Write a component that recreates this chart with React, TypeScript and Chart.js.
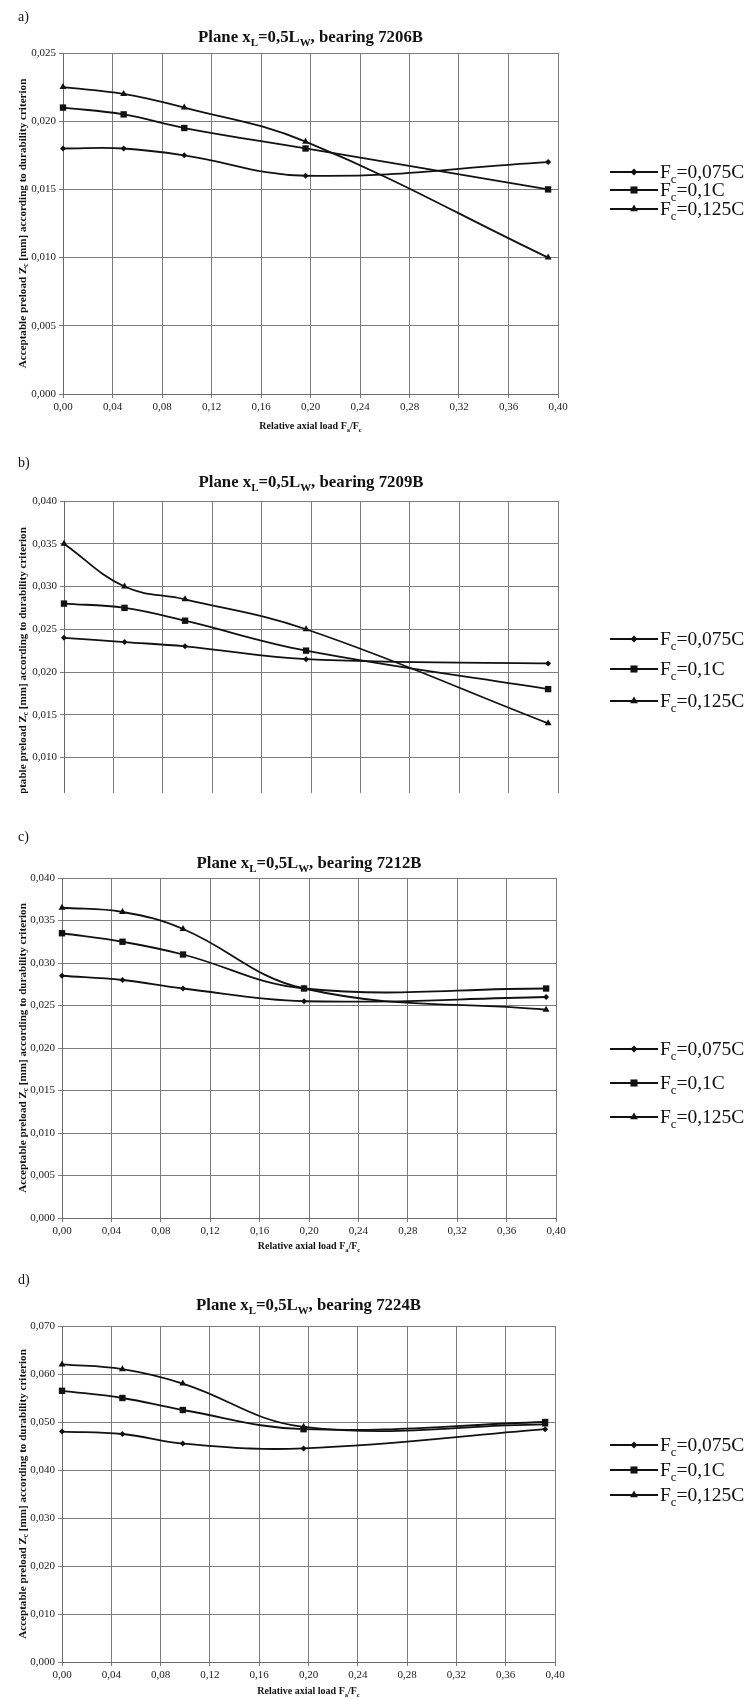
import React, { useEffect, useRef } from "react";
import { Chart, registerables } from "chart.js";
Chart.register(...registerables);

// ---------- data ----------
const relativeLoad = [0, 0.049, 0.098, 0.196, 0.392];
const seriesLabels = ["0,075C", "0,1C", "0,125C"];

const b7206_075 = [0.018, 0.018, 0.0175, 0.016, 0.017];
const b7206_100 = [0.021, 0.0205, 0.0195, 0.018, 0.015];
const b7206_125 = [0.0225, 0.022, 0.021, 0.0185, 0.01];

const b7209_075 = [0.024, 0.0235, 0.023, 0.0215, 0.021];
const b7209_100 = [0.028, 0.0275, 0.026, 0.0225, 0.018];
const b7209_125 = [0.035, 0.03, 0.0285, 0.025, 0.014];

const b7212_075 = [0.0285, 0.028, 0.027, 0.0255, 0.026];
const b7212_100 = [0.0335, 0.0325, 0.031, 0.027, 0.027];
const b7212_125 = [0.0365, 0.036, 0.034, 0.027, 0.0245];

const b7224_075 = [0.048, 0.0475, 0.0455, 0.0445, 0.0485];
const b7224_100 = [0.0565, 0.055, 0.0525, 0.0485, 0.05];
const b7224_125 = [0.062, 0.061, 0.058, 0.049, 0.0495];

const xMax = 0.4;
const xStep = 0.04;

// ---------- layout ----------
const FONT = '"Liberation Serif", "Times New Roman", Times, serif';
const W = 754;

type Cfg = {
  letter: string;
  bearing: string;
  series: number[][];
  yMax: number;
  yStep: number;
  top: number;
  height: number;
  clipHeight?: number;
  plotLeft: number;
  plotRight: number;
  plotTop: number;
  plotBottom: number;
  letterY: number;
  titleY: number;
  xTitleOffset: number;
  legendY: number[];
};

const panels: Cfg[] = [
  { letter: "a)", bearing: "7206B", series: [b7206_075, b7206_100, b7206_125], yMax: 0.025, yStep: 0.005,
    top: 0, height: 440, plotLeft: 63, plotRight: 558, plotTop: 53, plotBottom: 394,
    letterY: 17, titleY: 36, xTitleOffset: 32, legendY: [172, 190, 209] },
  { letter: "b)", bearing: "7209B", series: [b7209_075, b7209_100, b7209_125], yMax: 0.04, yStep: 0.005,
    top: 440, height: 460, clipHeight: 353, plotLeft: 64, plotRight: 558, plotTop: 61, plotBottom: 403,
    letterY: 23, titleY: 41, xTitleOffset: 32, legendY: [199, 229, 261] },
  { letter: "c)", bearing: "7212B", series: [b7212_075, b7212_100, b7212_125], yMax: 0.04, yStep: 0.005,
    top: 793, height: 462, plotLeft: 62, plotRight: 556, plotTop: 85, plotBottom: 425,
    letterY: 44, titleY: 69, xTitleOffset: 28, legendY: [256, 290, 324] },
  { letter: "d)", bearing: "7224B", series: [b7224_075, b7224_100, b7224_125], yMax: 0.07, yStep: 0.01,
    top: 1255, height: 444, plotLeft: 62, plotRight: 555, plotTop: 71, plotBottom: 407,
    letterY: 25, titleY: 49, xTitleOffset: 29, legendY: [190, 215, 240] },
];

const pointStyles = ["rectRot", "rect", "triangle"];
const pointRadii = [3, 4.5, 4];

type Part = { t: string; sub?: boolean };

function setFont(ctx: CanvasRenderingContext2D, size: number, bold: boolean) {
  ctx.font = `${bold ? "bold " : ""}${size}px ${FONT}`;
}
function measureRich(ctx: CanvasRenderingContext2D, parts: Part[], size: number, bold: boolean) {
  let w = 0;
  for (const p of parts) {
    setFont(ctx, p.sub ? size * 0.65 : size, bold);
    w += ctx.measureText(p.t).width;
  }
  return w;
}
function drawRich(ctx: CanvasRenderingContext2D, parts: Part[], x: number, yMid: number, size: number, bold: boolean, align: "left" | "center") {
  const w = measureRich(ctx, parts, size, bold);
  let cx = align === "center" ? x - w / 2 : x;
  const base = yMid + size * 0.33;
  ctx.textAlign = "left";
  ctx.textBaseline = "alphabetic";
  for (const p of parts) {
    const s = p.sub ? size * 0.65 : size;
    setFont(ctx, s, bold);
    ctx.fillText(p.t, cx, p.sub ? base + size * 0.24 : base);
    cx += ctx.measureText(p.t).width;
  }
}

function drawMarker(ctx: CanvasRenderingContext2D, style: string, x: number, y: number, r: number) {
  ctx.beginPath();
  if (style === "rectRot") {
    ctx.moveTo(x, y - r);
    ctx.lineTo(x + r, y);
    ctx.lineTo(x, y + r);
    ctx.lineTo(x - r, y);
  } else if (style === "rect") {
    const s = r * Math.SQRT1_2;
    ctx.rect(x - s, y - s, 2 * s, 2 * s);
  } else {
    let a = 0;
    ctx.moveTo(x + Math.sin(a) * r, y - Math.cos(a) * r);
    a += (2 * Math.PI) / 3;
    ctx.lineTo(x + Math.sin(a) * r, y - Math.cos(a) * r);
    a += (2 * Math.PI) / 3;
    ctx.lineTo(x + Math.sin(a) * r, y - Math.cos(a) * r);
  }
  ctx.closePath();
  ctx.fill();
}

function Panel({ cfg }: { cfg: Cfg }) {
  const ref = useRef<HTMLCanvasElement>(null);
  useEffect(() => {
    const canvas = ref.current!;
    const extras = {
      id: "extras",
      afterDraw(chart: any) {
        const ctx: CanvasRenderingContext2D = chart.ctx;
        const area = chart.chartArea;
        const cx = (area.left + area.right) / 2;
        const cy = (area.top + area.bottom) / 2;
        ctx.save();
        ctx.fillStyle = "#111";
        // panel letter
        setFont(ctx, 14, false);
        ctx.textAlign = "left";
        ctx.textBaseline = "middle";
        ctx.fillText(cfg.letter, 18, cfg.letterY);
        // title
        drawRich(ctx, [
          { t: "Plane x" }, { t: "L", sub: true }, { t: "=0,5L" }, { t: "W", sub: true },
          { t: ", bearing " + cfg.bearing },
        ], cx, cfg.titleY, 16.8, true, "center");
        // x title
        drawRich(ctx, [
          { t: "Relative axial load F" }, { t: "a", sub: true }, { t: "/F" }, { t: "c", sub: true },
        ], cx, area.bottom + cfg.xTitleOffset, 10, true, "center");
        // y title
        const yParts: Part[] = [
          { t: "Acceptable preload Z" }, { t: "c", sub: true },
          { t: " [mm] according to durability criterion" },
        ];
        const w10 = measureRich(ctx, yParts, 10, true);
        const ySize = (10 * 290) / w10;
        ctx.save();
        ctx.translate(22, cy);
        ctx.rotate(-Math.PI / 2);
        drawRich(ctx, yParts, 0, 0, ySize, true, "center");
        ctx.restore();
        // legend
        for (let i = 0; i < 3; i++) {
          const ly = cfg.legendY[i];
          ctx.strokeStyle = "#111";
          ctx.lineWidth = 2;
          ctx.beginPath();
          ctx.moveTo(610, ly);
          ctx.lineTo(658, ly);
          ctx.stroke();
          drawMarker(ctx, pointStyles[i], 634, ly, pointRadii[i] + 0.5);
          drawRich(ctx, [{ t: "F" }, { t: "c", sub: true }, { t: "=" + seriesLabels[i] }], 660, ly, 19.5, false, "left");
        }
        ctx.restore();
      },
    };

    const chart = new Chart(canvas, {
      type: "line",
      data: {
        datasets: cfg.series.map((vals, i) => ({
          label: "F=" + seriesLabels[i],
          data: relativeLoad.map((x, j) => ({ x, y: vals[j] })),
          borderColor: "#111",
          backgroundColor: "#111",
          borderWidth: 1.8,
          pointStyle: pointStyles[i] as any,
          pointRadius: pointRadii[i],
          pointBorderWidth: 0,
          tension: 0.4,
          clip: false as any,
        })),
      },
      options: {
        animation: false,
        responsive: false,
        maintainAspectRatio: false,
        devicePixelRatio: 1,
        layout: {
          padding: {
            left: 0,
            right: W - cfg.plotRight,
            top: cfg.plotTop,
            bottom: cfg.height - cfg.plotBottom - 30,
          },
        },
        plugins: {
          legend: { display: false },
          tooltip: { enabled: false },
          title: { display: false },
        },
        scales: {
          x: {
            type: "linear",
            min: 0,
            max: xMax,
            afterFit: (s: any) => { s.height = 30; },
            ticks: {
              stepSize: xStep,
              autoSkip: false,
              maxRotation: 0,
              padding: 3,
              color: "#1a1a1a",
              font: { family: FONT, size: 11 },
              callback: (v: any) => Number(v).toFixed(2).replace(".", ","),
            },
            grid: { color: "#7c7c7c", lineWidth: 1, tickLength: 4 },
            border: { color: "#6a6a6a", width: 1 },
          },
          y: {
            type: "linear",
            min: 0,
            max: cfg.yMax,
            afterFit: (s: any) => { s.width = cfg.plotLeft; },
            ticks: {
              stepSize: cfg.yStep,
              padding: 3,
              color: "#1a1a1a",
              font: { family: FONT, size: 11 },
              callback: (v: any) => Number(v).toFixed(3).replace(".", ","),
            },
            grid: { color: "#7c7c7c", lineWidth: 1, tickLength: 4 },
            border: { color: "#6a6a6a", width: 1 },
          },
        },
      },
      plugins: [extras],
    } as any);
    return () => chart.destroy();
  }, [cfg]);
  return (
    <div style={{ position: "absolute", left: 0, top: cfg.top, width: W, height: cfg.clipHeight ?? cfg.height, overflow: "hidden" }}>
      <canvas ref={ref} width={W} height={cfg.height} style={{ display: "block", width: W, height: cfg.height }} />
    </div>
  );
}

export default function App() {
  return (
    <div style={{ position: "absolute", left: 0, top: 0, width: W, height: 1699, background: "#fff", overflow: "hidden" }}>
      {panels.map((p) => (
        <Panel key={p.letter} cfg={p} />
      ))}
    </div>
  );
}
